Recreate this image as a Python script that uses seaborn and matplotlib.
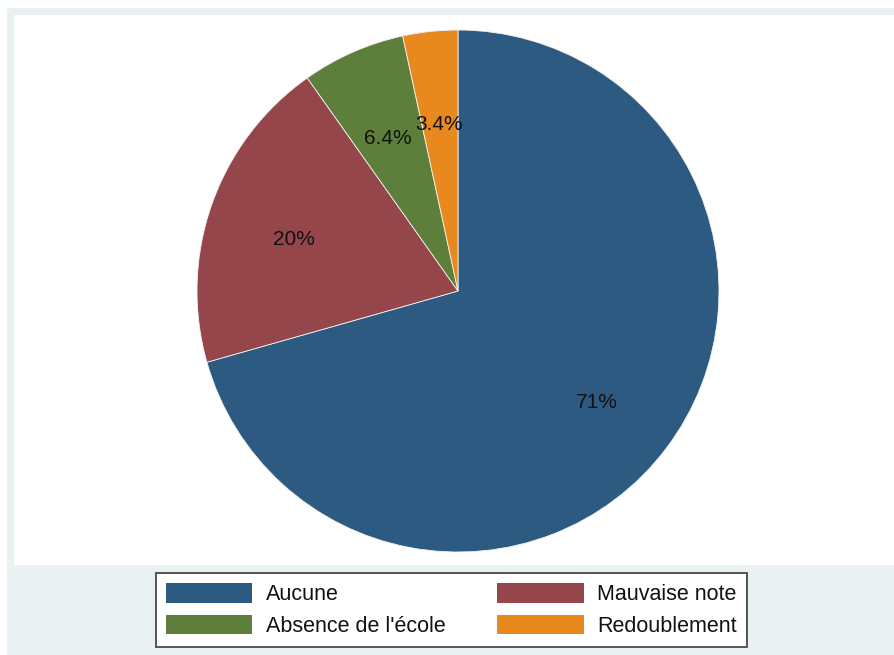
import matplotlib
matplotlib.use("Agg")
import matplotlib.pyplot as plt
from matplotlib.patches import Rectangle
import seaborn as sns

# Motif de décrochage et part des élèves (%)
categories = ["Aucune", "Mauvaise note", "Absence de l'école", "Redoublement"]
shares = [70.6, 19.6, 6.4, 3.4]
colors = ["#2D5A80", "#94464B", "#5E7E3B", "#E8891E"]

sns.set_theme(style="white")
plt.rcParams["font.family"] = ["Liberation Sans", "DejaVu Sans"]

W, H = 894, 655
fig = plt.figure(figsize=(W / 100, H / 100), dpi=100, facecolor="white")

# Cadre du graphique (zone externe claire, zone de tracé blanche)
fig.patches.append(Rectangle((7 / W, 0), 1 - 7 / W, 1 - 8 / H,
                             transform=fig.transFigure, facecolor="#EAF1F3",
                             edgecolor="none", zorder=-2))
fig.patches.append(Rectangle((14 / W, 1 - 565 / H), 1 - 14 / W, (565 - 15) / H,
                             transform=fig.transFigure, facecolor="white",
                             edgecolor="none", zorder=-1))

cx, cy, r = 458, 291, 261
ax = fig.add_axes([(cx - r) / W, 1 - (cy + r) / H, 2 * r / W, 2 * r / H])
ax.set_facecolor("none")
ax.set_zorder(1)

wedges, texts = ax.pie(
    shares,
    colors=colors,
    startangle=90,
    counterclock=False,
    labels=[f"{v:.2g}%" for v in shares],
    labeldistance=0.665,
    wedgeprops=dict(edgecolor="#F2F2F2", linewidth=0.6),
    textprops=dict(fontsize=15, color="#111111", ha="center", va="center"),
    radius=1.0,
)
# Étiquettes légèrement abaissées
for t in texts:
    x, y = t.get_position()
    t.set_position((x, y - 0.025))
ax.set_xlim(-1, 1)
ax.set_ylim(-1, 1)
ax.set_aspect("equal")
ax.axis("off")

# Légende remplie ligne par ligne sur deux colonnes
order = [0, 2, 1, 3]
leg = fig.legend(
    [wedges[i] for i in order], [categories[i] for i in order],
    loc="center", bbox_to_anchor=(451.5 / W, 1 - 610 / H),
    ncol=2, fontsize=15.5, frameon=True, fancybox=False, framealpha=1,
    facecolor="white",
    handlelength=4.0, handleheight=1.05, handletextpad=0.65,
    columnspacing=2.4, labelspacing=0.42, borderpad=0.45,
    edgecolor="#555555",
)
leg.get_frame().set_linewidth(1.4)
leg.set_zorder(2)
for t in leg.get_texts():
    t.set_color("#111111")
for h in leg.legend_handles:
    h.set_edgecolor("none")

fig.savefig("out.png", dpi=100, facecolor="white")
